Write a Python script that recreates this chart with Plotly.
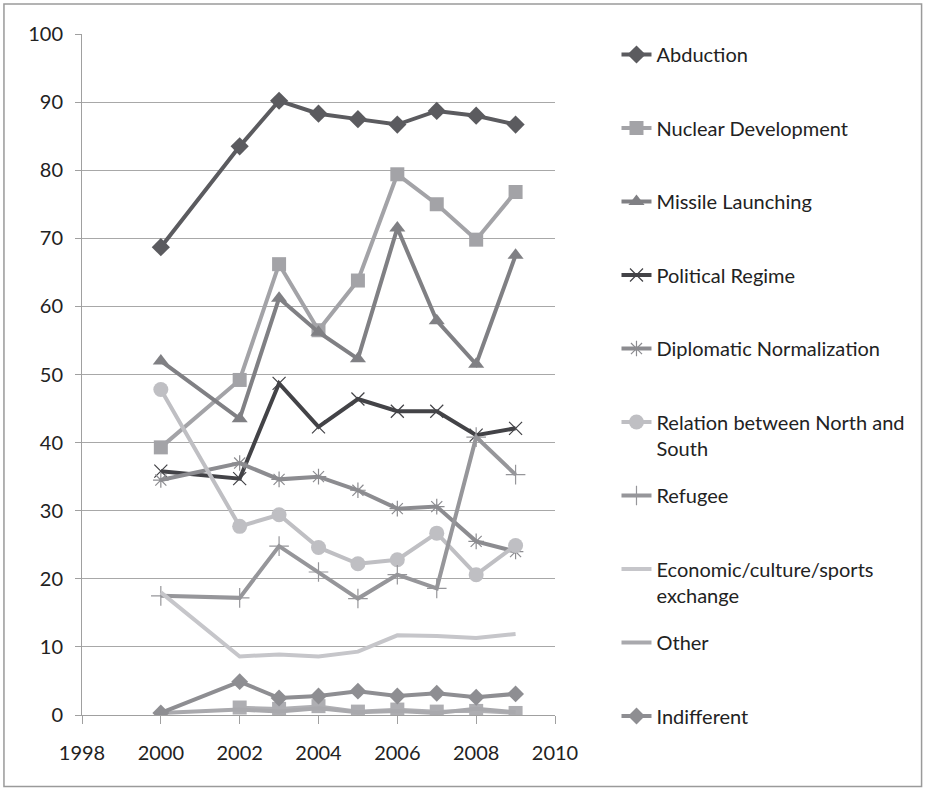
import plotly.graph_objects as go

years = [2000, 2002, 2003, 2004, 2005, 2006, 2007, 2008, 2009]

abduction = [68.7, 83.5, 90.2, 88.3, 87.5, 86.7, 88.7, 88.0, 86.7]
nuclear = [39.3, 49.2, 66.2, 56.5, 63.8, 79.4, 75.0, 69.8, 76.8]
missile = [52.0, 43.5, 61.2, 56.2, 52.3, 71.5, 57.9, 51.5, 67.5]
political = [35.8, 34.7, 48.7, 42.3, 46.4, 44.6, 44.6, 41.1, 42.1]
diplomatic = [34.5, 37.0, 34.6, 35.0, 33.0, 30.3, 30.6, 25.5, 24.0]
relation = [47.8, 27.7, 29.4, 24.6, 22.2, 22.8, 26.7, 20.6, 24.9]
refugee = [17.5, 17.2, 24.8, 21.0, 17.1, 20.6, 18.6, 40.8, 35.3]
economic = [18.0, 8.6, 8.9, 8.6, 9.3, 11.7, 11.6, 11.3, 11.9]
other = [0.3, 0.8, 0.5, 1.0, 0.4, 0.6, 0.3, 0.9, 0.4]
other_marks_years = [2002, 2003, 2004, 2005, 2006, 2007, 2008, 2009]
other_marks = [1.1, 0.9, 1.3, 0.5, 0.8, 0.5, 0.6, 0.3]
indifferent = [0.3, 4.9, 2.5, 2.8, 3.5, 2.8, 3.2, 2.6, 3.1]

series = [
    ("Abduction", abduction, "#5b5b5f", dict(symbol="diamond", size=14)),
    ("Nuclear Development", nuclear, "#a3a3a7", dict(symbol="square", size=14)),
    ("Missile Launching", missile, "#808084", dict(symbol="triangle-up", size=14)),
    ("Political Regime", political, "#434347", dict(symbol="x-thin-open", size=13, line=dict(color="#8a8a8e", width=1.2))),
    ("Diplomatic Normalization", diplomatic, "#8c8c90", dict(symbol="asterisk-open", size=13, line=dict(color="#9a9a9e", width=1.2))),
    ("Relation between North and<br>South", relation, "#bfbfc3", dict(symbol="circle", size=15)),
    ("Refugee", refugee, "#96969a", dict(symbol="cross-thin-open", size=14, line=dict(color="#88888c", width=1.2))),
    ("Economic/culture/sports<br>exchange", economic, "#c6c6ca", None),
    ("Other", other, "#a9a9ad", None),
    ("Indifferent", indifferent, "#8e8e92", dict(symbol="diamond", size=13)),
]

fig = go.Figure()

# squares near zero (drawn without legend entry)
fig.add_trace(go.Scatter(x=other_marks_years, y=other_marks, mode="lines+markers",
                         line=dict(color="#b0b0b4", width=3.5),
                         marker=dict(symbol="square", size=14, color="#aeaeb2"),
                         showlegend=False, hoverinfo="skip"))

for i, (name, vals, color, mk) in enumerate(series):
    single = "<br>" not in name
    label = name + ("<br>&nbsp;" if single else "")
    leg = "legend" if i < 5 else "legend2"
    if mk is None:
        fig.add_trace(go.Scatter(x=years, y=vals, mode="lines", name=label,
                                 line=dict(color=color, width=4),
                                 legendgroup=f"g{i}", legend=leg))
    else:
        m = dict(mk)
        if "open" not in m["symbol"]:
            m["color"] = color
        fig.add_trace(go.Scatter(x=years, y=vals, mode="lines+markers", name=label,
                                 line=dict(color=color, width=4),
                                 marker=m, legendgroup=f"g{i}", legend=leg))

legend_common = dict(
    xanchor="left", yanchor="top",
    font=dict(family="Lato", size=20, color="#222222"),
    tracegroupgap=18.5, valign="top", itemwidth=30,
    bgcolor="rgba(0,0,0,0)",
)

tickfont = dict(family="Lato", size=20, color="#222222")

fig.update_layout(
    width=926, height=790,
    margin=dict(l=82, r=371, t=34, b=75, autoexpand=False),
    paper_bgcolor="white", plot_bgcolor="white",
    font=dict(family="Lato", size=20, color="#222222"),
    showlegend=True,
    legend=dict(x=1.13, y=0.9985, **legend_common),
    legend2=dict(x=1.13, y=0.4589, **legend_common),
    xaxis=dict(range=[1998, 2010], dtick=2, tick0=1998, showgrid=False,
               showline=True, linecolor="#a0a0a0", linewidth=1,
               ticks="outside", ticklen=8, tickcolor="#a0a0a0",
               ticklabelstandoff=12,
               tickfont=tickfont, zeroline=False),
    yaxis=dict(range=[0, 100], dtick=10, showgrid=True, gridcolor="#a8a8a8", gridwidth=1,
               showline=True, linecolor="#a0a0a0", linewidth=1,
               ticks="outside", ticklen=6, tickcolor="#a0a0a0",
               ticklabelstandoff=8,
               tickfont=tickfont, zeroline=False),
    shapes=[dict(type="rect", xref="paper", yref="paper",
                 x0=-0.165, x1=1.775, y0=-0.105, y1=1.044,
                 line=dict(color="#9a9a9a", width=1.5), fillcolor="rgba(0,0,0,0)")],
)

fig.write_html("out.html", config={"displayModeBar": False},
               post_script="document.body.style.margin='0';")
